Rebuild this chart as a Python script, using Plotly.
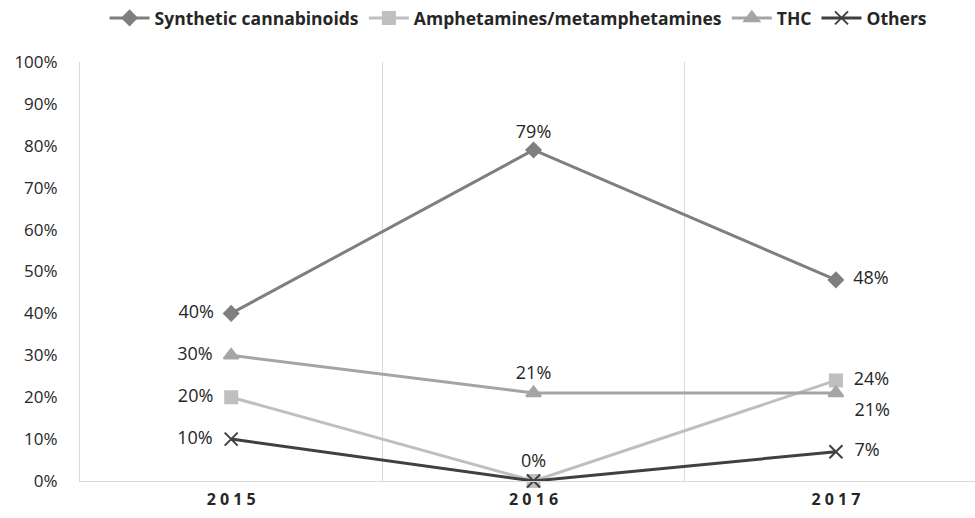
import plotly.graph_objects as go

years = ["2015", "2016", "2017"]
series_names = ["Synthetic cannabinoids", "Amphetamines/metamphetamines", "THC", "Others"]
synthetic = [40, 79, 48]
amphet = [20, 0, 24]
thc = [30, 21, 21]
others = [10, 0, 7]
y_ticks = [0, 10, 20, 30, 40, 50, 60, 70, 80, 90, 100]

values = [synthetic, amphet, thc, others]
colors = ["#7f7f7f", "#bfbfbf", "#a5a5a5", "#404040"]
symbols = ["diamond", "square", "triangle-up", "x-thin"]
msize = [11, 12, 13, 13]
label_pos = [
    ["middle left", "top center", "middle right"],
    ["middle left", "top center", "middle right"],
    ["middle left", "top center", "bottom right"],
    ["middle left", "top center", "middle right"],
]
label_show = [
    [True, True, True],
    [True, False, True],
    [True, True, True],
    [True, True, True],
]

FONT = "Open Sans, Lato, sans-serif"
xs = list(range(len(years)))
fig = go.Figure()
for name, vals, c, s, ms, pos, show in zip(series_names, values, colors, symbols, msize, label_pos, label_show):
    texts = [("  " + f"{v}%" + "  ") if sh else "" for v, sh in zip(vals, show)]
    fig.add_trace(go.Scatter(
        x=xs, y=vals, name=name, mode="lines+markers+text",
        line=dict(color=c, width=3),
        marker=dict(symbol=s, size=ms, color=c, line=dict(color=c, width=2)),
        text=texts, textposition=pos,
        textfont=dict(family=FONT, size=18, color="#262626"),
        hoverinfo="skip", cliponaxis=False,
    ))

fig.update_layout(
    width=975, height=518,
    margin=dict(l=80, r=0, t=62, b=37),
    paper_bgcolor="white", plot_bgcolor="white",
    showlegend=True,
    legend=dict(orientation="h", x=0.49, xanchor="center", y=1.105, yanchor="middle",
                font=dict(family=FONT, size=17.5, color="#262626", weight="bold"),
                itemwidth=40, tracegroupgap=0),
    font=dict(family=FONT, color="#262626"),
)
fig.update_xaxes(
    range=[-0.5, 2.46], tickmode="array", tickvals=xs,
    ticktext=[" ".join(list(y)) for y in years],
    tickfont=dict(size=16, color="#262626", weight="bold"),
    showgrid=False, zeroline=False,
    showline=True, linecolor="#d9d9d9", linewidth=1,
    ticks="", ticklabelstandoff=4,
    minor=dict(tickmode="array", tickvals=[-0.5, 0.5, 1.5], showgrid=True, gridcolor="#d9d9d9", gridwidth=1),
)
fig.update_yaxes(
    range=[0, 100], tickmode="array", tickvals=y_ticks,
    ticktext=[f"{v}%" for v in y_ticks],
    tickfont=dict(size=17, color="#262626"),
    showgrid=False, zeroline=False,
    showline=True, linecolor="#d9d9d9", linewidth=1,
    ticks="", ticklabelstandoff=18,
)

fig.write_html("out.html")
